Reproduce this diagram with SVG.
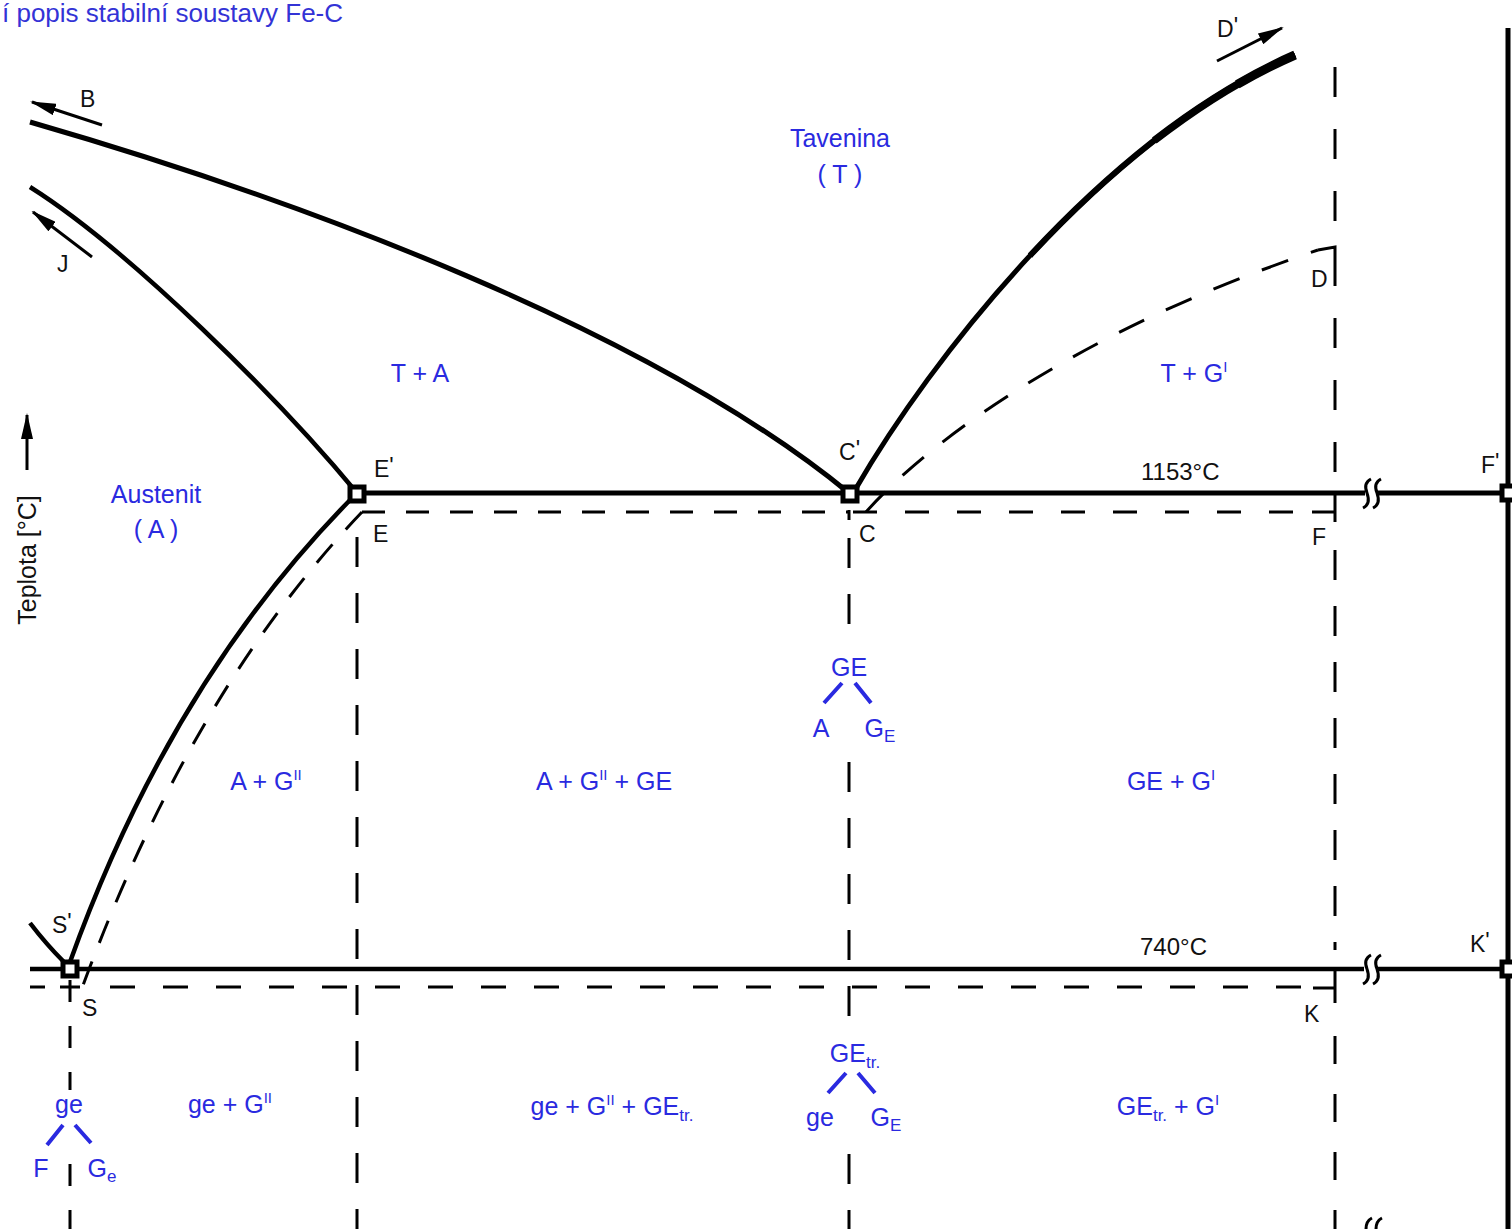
<svg xmlns="http://www.w3.org/2000/svg" width="1512" height="1229" viewBox="0 0 1512 1229">
<defs>
<style>
.bl{font-family:"Liberation Sans",Arial,sans-serif;font-size:25px;fill:#2a2ae0;text-anchor:middle}
.bk{font-family:"Liberation Sans",Arial,sans-serif;font-size:23px;fill:#111}
.sup{font-size:15px}
.sub{font-size:17px}
.th{fill:none;stroke:#000;stroke-width:5}
.ln{fill:none;stroke:#000;stroke-width:4.5}
.ds{fill:none;stroke:#000;stroke-width:3}
.bs{fill:none;stroke:#2a2ae0;stroke-width:4}
.pt{fill:#fff;stroke:#000;stroke-width:5}
.bg{fill:#fff}
</style>
<marker id="ah" markerUnits="userSpaceOnUse" markerWidth="26" markerHeight="12" refX="24" refY="6" orient="auto">
<path d="M0,0 L26,6 L0,12 z" fill="#000"/>
</marker>
</defs>
<rect width="1512" height="1229" fill="#fff"/>
<text x="2" y="22" style="font-family:'Liberation Sans',Arial,sans-serif;font-size:26px;fill:#3333d6">í popis stabilní soustavy Fe-C</text>

<g id="connectors">
<!-- liquidus B -> C' -->
<path class="th" d="M30,122 C300,200 650,330 849,493"/>
<!-- J -> E' -->
<path class="ln" d="M30,187 C130,250 280,400 357,493"/>
<!-- E' -> S' -->
<path class="ln" d="M70,962 Q172,678 357,493"/>
<!-- S' small -->
<path class="ln" d="M30,923 Q46,944 64,962"/>
<!-- C' -> D' (thickening toward top) -->
<path class="th" d="M855,490 C930,360 1100,140 1295,55"/>
<path fill="none" stroke="#000" stroke-width="6" d="M1030,255.6 C1106.25,173.75 1197.5,97.5 1295,55"/>
<path fill="none" stroke="#000" stroke-width="7.5" d="M1154.3,140.5 C1199.1,105.9 1246.25,76.25 1295,55"/>
<path fill="none" stroke="#000" stroke-width="9" d="M1237.3,84.3 C1256.25,73.35 1275.5,63.5 1295,55"/>
<!-- eutectic 1153 -->
<path class="th" d="M357,493 H1365 M1377,493 H1509"/>
<!-- eutectoid 740 -->
<path class="ln" d="M30,969 H1364 M1377,969 H1509"/>
<!-- right axis -->
<path class="th" d="M1508,28 V1229"/>
<!-- break symbols -->
<path class="ds" d="M1371,479 Q1363,483 1367,493 Q1371,504 1363,508 M1381,479 Q1373,483 1377,493 Q1381,504 1373,508"/>
<path class="ds" d="M1371,955 Q1363,959 1367,969 Q1371,980 1363,984 M1381,955 Q1373,959 1377,969 Q1381,980 1373,984"/>
<path class="ds" d="M1372,1218 Q1366,1221 1366,1229 M1382,1218 Q1376,1221 1376,1229"/>
<!-- dashed metastable lines -->
<path class="ds" stroke-dasharray="23 21" d="M362,512 H849"/>
<path class="ds" stroke-dasharray="24 28" d="M853,512 H1312"/>
<path class="ds" d="M1312,512 H1335 M1335,495 V522"/>
<path class="ds" d="M30,987 H45 M60,987 H80"/>
<path class="ds" stroke-dasharray="25 28" d="M110,987 H1313"/>
<path class="ds" d="M1313,988 H1335 M1335,968 V1003"/>
<path class="ds" stroke-dasharray="24 20" d="M362,512 Q192,690 82,988"/>
<path class="ds" stroke-dasharray="28 24" d="M866,512 C930,440 1080,330 1318,250"/>
<path class="ds" d="M1318,250 L1335,247 V286"/>
<!-- verticals -->
<path class="ds" stroke-dasharray="30 32" d="M1335,67 V240"/>
<path class="ds" stroke-dasharray="30 32" d="M1335,318 V480"/>
<path class="ds" stroke-dasharray="30 26" d="M1335,550 V950"/>
<path class="ds" stroke-dasharray="28 30" d="M1335,1036 V1229"/>
<path class="ds" stroke-dasharray="30 26" d="M357,537 V1229"/>
<path class="ds" d="M849,510 V520"/>
<path class="ds" stroke-dasharray="30 26" d="M849,538 V1229"/>
<path class="ds" stroke-dasharray="22 24" d="M70,980 V1229"/>
<!-- label backgrounds hiding the dashed verticals -->
<rect class="bg" x="805" y="628" width="100" height="126"/>
<rect class="bg" x="800" y="1035" width="108" height="108"/>
<rect class="bg" x="30" y="1090" width="80" height="62"/>
<!-- direction arrows -->
<path fill="none" stroke="#000" stroke-width="3" marker-end="url(#ah)" d="M102,125 L32,102"/>
<path fill="none" stroke="#000" stroke-width="3" marker-end="url(#ah)" d="M92,257 L33,212"/>
<path fill="none" stroke="#000" stroke-width="3" marker-end="url(#ah)" d="M1217,61 L1282,28"/>
<path fill="none" stroke="#000" stroke-width="3" marker-end="url(#ah)" d="M27,470 L27,415"/>
<!-- blue decomposition strokes -->
<path class="bs" d="M842,683 L824,703 M855,683 L871,703"/>
<path class="bs" d="M846,1073 L828,1093 M858,1073 L875,1093"/>
<path class="bs" d="M63,1125 L47,1145 M75,1125 L91,1143"/>
</g>

<g id="node-E1"><rect class="pt" x="350" y="487" width="14" height="14"/><text class="bk" x="374" y="477">E<tspan dy="-3">'</tspan></text></g>
<g id="node-C1"><rect class="pt" x="843" y="487" width="14" height="14"/><text class="bk" x="839" y="460">C<tspan dy="-3">'</tspan></text></g>
<g id="node-S1"><rect class="pt" x="63" y="962" width="14" height="14"/><text class="bk" x="52" y="933">S<tspan dy="-3">'</tspan></text></g>
<g id="node-F1"><rect class="pt" x="1502" y="486" width="14" height="14"/><text class="bk" x="1481" y="473">F<tspan dy="-3">'</tspan></text></g>
<g id="node-K1"><rect class="pt" x="1502" y="962" width="14" height="14"/><text class="bk" x="1470" y="952">K<tspan dy="-3">'</tspan></text></g>
<g id="node-E"><text class="bk" x="373" y="542">E</text></g>
<g id="node-C"><text class="bk" x="859" y="542">C</text></g>
<g id="node-F"><text class="bk" x="1312" y="545">F</text></g>
<g id="node-S"><text class="bk" x="82" y="1016">S</text></g>
<g id="node-K"><text class="bk" x="1304" y="1022">K</text></g>
<g id="node-D"><text class="bk" x="1311" y="287">D</text></g>
<g id="node-D1"><text class="bk" x="1217" y="37">D<tspan dy="-3">'</tspan></text></g>
<g id="node-B"><text class="bk" x="80" y="107">B</text></g>
<g id="node-J"><text class="bk" x="57" y="272">J</text></g>
<g id="temps">
<text class="bk" x="1141" y="480" style="font-size:24px">1153°C</text>
<text class="bk" x="1140" y="955" style="font-size:24px">740°C</text>
</g>
<g id="axis-label">
<text class="bk" transform="translate(36,560) rotate(-90)" style="font-size:25px;text-anchor:middle">Teplota [°C]</text>
</g>

<g id="regions">
<text class="bl" x="840" y="147">Tavenina</text>
<text class="bl" x="840" y="183">( T )</text>
<text class="bl" x="420" y="382">T + A</text>
<text class="bl" x="1194" y="382">T + G<tspan class="sup" dy="-10">I</tspan></text>
<text class="bl" x="156" y="503">Austenit</text>
<text class="bl" x="156" y="538">( A )</text>
<text class="bl" x="266" y="790">A + G<tspan class="sup" dy="-10">II</tspan></text>
<text class="bl" x="604" y="790">A + G<tspan class="sup" dy="-10">II</tspan><tspan dy="10"> + GE</tspan></text>
<text class="bl" x="849" y="676">GE</text>
<text class="bl" x="821" y="737">A</text>
<text class="bl" x="880" y="737">G<tspan class="sub" dy="5">E</tspan></text>
<text class="bl" x="1171" y="790">GE + G<tspan class="sup" dy="-10">I</tspan></text>
<text class="bl" x="69" y="1113">ge</text>
<text class="bl" x="41" y="1177">F</text>
<text class="bl" x="102" y="1177">G<tspan class="sub" dy="5">e</tspan></text>
<text class="bl" x="230" y="1113">ge + G<tspan class="sup" dy="-10">II</tspan></text>
<text class="bl" x="612" y="1115">ge + G<tspan class="sup" dy="-10">II</tspan><tspan dy="10"> + GE</tspan><tspan class="sub" dy="6">tr.</tspan></text>
<text class="bl" x="855" y="1062">GE<tspan class="sub" dy="6">tr.</tspan></text>
<text class="bl" x="820" y="1126">ge</text>
<text class="bl" x="886" y="1126">G<tspan class="sub" dy="5">E</tspan></text>
<text class="bl" x="1168" y="1115">GE<tspan class="sub" dy="6">tr.</tspan><tspan dy="-6"> + G</tspan><tspan class="sup" dy="-10">I</tspan></text>
</g>
</svg>
